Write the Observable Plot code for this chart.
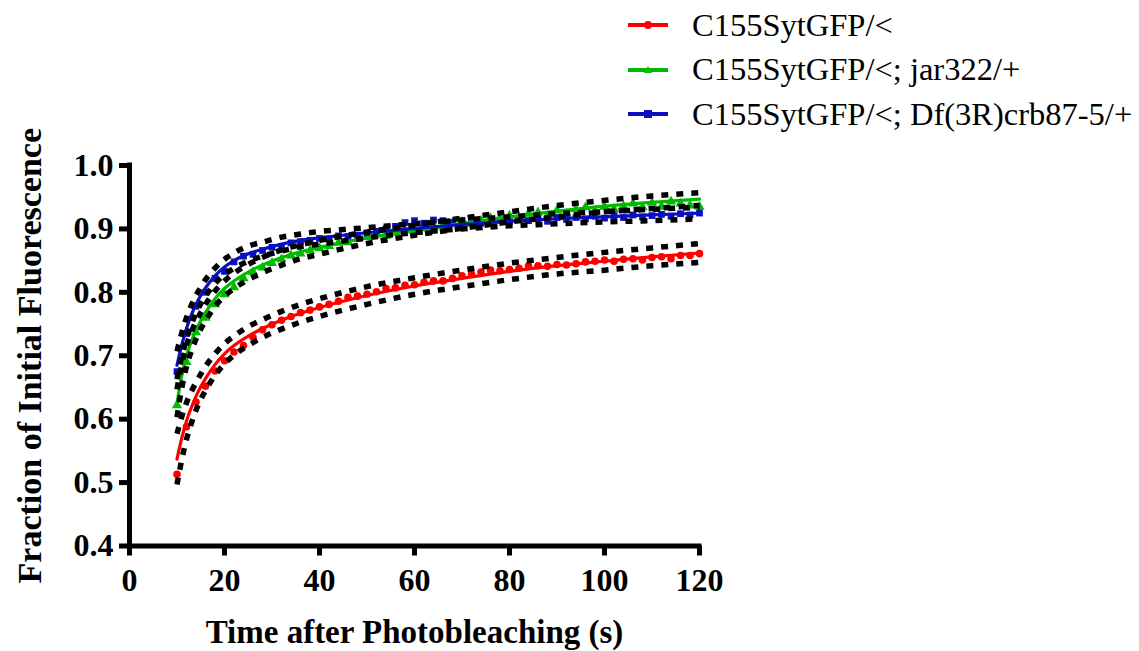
<!DOCTYPE html>
<html><head><meta charset="utf-8">
<script src="https://cdn.jsdelivr.net/npm/d3@7"></script>
<script src="https://cdn.jsdelivr.net/npm/@observablehq/plot@0.6"></script>
<style>
body{margin:0;background:#fff;}
#wrap{position:relative;width:1139px;height:651px;overflow:hidden;}
#legend{position:absolute;left:626px;top:3px;font-family:"Liberation Serif","Times New Roman",serif;font-size:32.5px;color:#000;}
.item{display:flex;align-items:center;height:44.5px;white-space:nowrap;}
.item span{margin-left:22px;}
</style></head><body><div id="wrap"><div id="legend"></div></div>
<script>
const seriesNames = ["C155SytGFP/<", "C155SytGFP/<; jar322/+", "C155SytGFP/<; Df(3R)crb87-5/+"];
const seriesColors = ["#ff0000", "#00bb00", "#0a10c0"];
const seriesSymbols = ["circle", "triangle", "square"];

const xTicks = [0, 20, 40, 60, 80, 100, 120];
const yTicks = [0.4, 0.5, 0.6, 0.7, 0.8, 0.9, 1.0];
const xLabel = "Time after Photobleaching (s)";
const yLabel = "Fraction of Initial Fluorescence";

// measured time points (s)
const timePoints = [10,12,14,16,18,20,22,24,26,28,30,32,34,36,38,40,42,44,46,48,50,52,54,56,58,60,62,64,66,68,70,72,74,76,78,80,82,84,86,88,90,92,94,96,98,100,102,104,106,108,110,112,114,116,118,120];

const redData = [0.513,0.588,0.627,0.652,0.676,0.692,0.706,0.716,0.729,0.741,0.749,0.756,0.762,0.768,0.772,0.777,0.781,0.786,0.792,0.794,0.797,0.801,0.806,0.807,0.811,0.812,0.816,0.818,0.818,0.822,0.826,0.829,0.832,0.835,0.834,0.836,0.838,0.842,0.842,0.841,0.844,0.843,0.845,0.848,0.849,0.851,0.849,0.852,0.853,0.851,0.855,0.856,0.853,0.858,0.858,0.861];
const greenData = [0.622,0.690,0.737,0.760,0.781,0.797,0.808,0.822,0.832,0.839,0.846,0.852,0.858,0.861,0.866,0.870,0.873,0.878,0.879,0.884,0.887,0.891,0.889,0.894,0.898,0.897,0.901,0.903,0.905,0.909,0.911,0.908,0.913,0.917,0.914,0.921,0.917,0.924,0.926,0.921,0.929,0.924,0.931,0.934,0.928,0.935,0.931,0.936,0.940,0.934,0.941,0.935,0.943,0.940,0.937,0.935];
const blueData = [0.675,0.735,0.778,0.800,0.822,0.833,0.848,0.857,0.860,0.866,0.871,0.872,0.878,0.880,0.882,0.885,0.884,0.889,0.888,0.890,0.893,0.896,0.900,0.904,0.910,0.913,0.909,0.914,0.913,0.910,0.908,0.911,0.909,0.912,0.914,0.911,0.915,0.913,0.916,0.912,0.918,0.915,0.918,0.916,0.920,0.917,0.921,0.918,0.922,0.919,0.921,0.923,0.920,0.924,0.922,0.925];

// fitted curves and their confidence bands, sampled at these times
const fitTimes = [10,11,12,13,14,15,16,18,20,22,25,28,32,36,40,45,50,60,70,80,90,100,110,120];
const redFit   = [0.537,0.570,0.597,0.618,0.636,0.651,0.664,0.686,0.703,0.716,0.731,0.743,0.756,0.767,0.776,0.786,0.795,0.810,0.822,0.833,0.842,0.849,0.856,0.862];
const redUpper = [0.577,0.604,0.626,0.643,0.658,0.671,0.683,0.703,0.719,0.731,0.746,0.757,0.770,0.781,0.790,0.800,0.809,0.823,0.835,0.846,0.855,0.863,0.870,0.877];
const redLower = [0.497,0.536,0.568,0.593,0.614,0.631,0.645,0.669,0.687,0.701,0.716,0.729,0.742,0.753,0.762,0.772,0.781,0.797,0.809,0.820,0.829,0.835,0.842,0.847];
const greenFit   = [0.625,0.668,0.700,0.722,0.740,0.755,0.768,0.790,0.806,0.818,0.832,0.843,0.855,0.864,0.871,0.879,0.886,0.898,0.909,0.919,0.928,0.936,0.942,0.947];
const greenUpper = [0.647,0.687,0.717,0.737,0.754,0.768,0.781,0.802,0.818,0.830,0.844,0.855,0.867,0.875,0.882,0.889,0.895,0.906,0.917,0.927,0.937,0.945,0.952,0.957];
const greenLower = [0.603,0.649,0.683,0.707,0.726,0.742,0.755,0.778,0.794,0.806,0.820,0.831,0.843,0.853,0.860,0.869,0.877,0.890,0.901,0.911,0.919,0.927,0.932,0.937];
const blueFit   = [0.685,0.717,0.743,0.764,0.781,0.795,0.807,0.826,0.840,0.850,0.861,0.868,0.876,0.882,0.886,0.890,0.894,0.901,0.907,0.912,0.916,0.919,0.922,0.925];
const blueUpper = [0.707,0.736,0.760,0.779,0.795,0.808,0.820,0.838,0.852,0.862,0.873,0.879,0.887,0.892,0.896,0.899,0.902,0.908,0.914,0.919,0.924,0.927,0.931,0.934];
const blueLower = [0.663,0.698,0.726,0.749,0.767,0.782,0.794,0.814,0.828,0.838,0.849,0.857,0.865,0.872,0.876,0.881,0.886,0.894,0.900,0.905,0.908,0.911,0.913,0.916];

const dataSets = [redData, greenData, blueData];
const fits = [redFit, greenFit, blueFit];
const bands = [[redUpper, redLower], [greenUpper, greenLower], [blueUpper, blueLower]];

const points = dataSets.map(arr => arr.map((v, i) => ({t: timePoints[i], v})));
const fitRows = fits.map(arr => arr.map((v, i) => ({t: fitTimes[i], v})));
const bandRows = bands.flat().map(arr => arr.map((v, i) => ({t: fitTimes[i], v})));

const marks = [];
points.forEach((rows, k) => {
  marks.push(Plot.dot(rows, {x: "t", y: "v", r: 3.8, symbol: () => seriesSymbols[k], fill: seriesColors[k], stroke: null}));
});
fitRows.forEach((rows, k) => {
  marks.push(Plot.line(rows, {x: "t", y: "v", curve: "monotone-x", stroke: seriesColors[k], strokeWidth: 3.2}));
});
bandRows.forEach(rows => {
  marks.push(Plot.line(rows, {x: "t", y: "v", curve: "monotone-x", stroke: "#000", strokeWidth: 5.5, strokeDasharray: "7,8", strokeLinecap: "butt"}));
});

const font = '"Liberation Serif","Times New Roman",serif';
const chart = Plot.plot({
  width: 1139, height: 651,
  marginLeft: 129, marginRight: 440, marginTop: 165, marginBottom: 105.5,
  x: {domain: [0, 120]},
  y: {domain: [0.4, 1.0]},
  style: {fontFamily: font, fontWeight: "bold", fontSize: "32px", color: "#000", background: "#fff", overflow: "visible"},
  marks: [
    Plot.axisX({ticks: xTicks, tickSize: 10, tickPadding: 12, strokeWidth: 5, label: null, fontSize: 32, fontWeight: "bold", tickFormat: d => String(d)}),
    Plot.axisY({ticks: yTicks, tickSize: 10, tickPadding: 6, strokeWidth: 5, label: null, fontSize: 32, fontWeight: "bold", tickFormat: d3.format(".1f")}),
    Plot.ruleX([0], {strokeWidth: 5, strokeLinecap: "square"}),
    Plot.ruleY([0.4], {strokeWidth: 5, strokeLinecap: "square"}),
    ...marks,
    Plot.text([xLabel], {frameAnchor: "bottom", dy: 97, textAnchor: "middle", fontSize: 33, fontWeight: "bold"}),
    Plot.text([yLabel], {frameAnchor: "left", dx: -99, textAnchor: "middle", rotate: -90, fontSize: 34, fontWeight: "bold"})
  ]
});
const wrap = document.getElementById("wrap");
wrap.insertBefore(chart, wrap.firstChild);

const legend = document.getElementById("legend");
seriesNames.forEach((name, k) => {
  const c = seriesColors[k];
  let marker;
  if (seriesSymbols[k] === "circle") marker = `<circle cx="22" cy="10" r="4" fill="${c}"/>`;
  else if (seriesSymbols[k] === "triangle") marker = `<path d="M22,6 L26,13 L18,13 Z" fill="${c}"/>`;
  else marker = `<rect x="18" y="6" width="8" height="8" fill="${c}"/>`;
  const div = document.createElement("div");
  div.className = "item";
  div.innerHTML = `<svg width="44" height="20"><line x1="2" x2="42" y1="10" y2="10" stroke="${c}" stroke-width="4"/>${marker}</svg><span>${name.replace(/</g, "&lt;")}</span>`;
  legend.appendChild(div);
});
</script>
</body></html>
